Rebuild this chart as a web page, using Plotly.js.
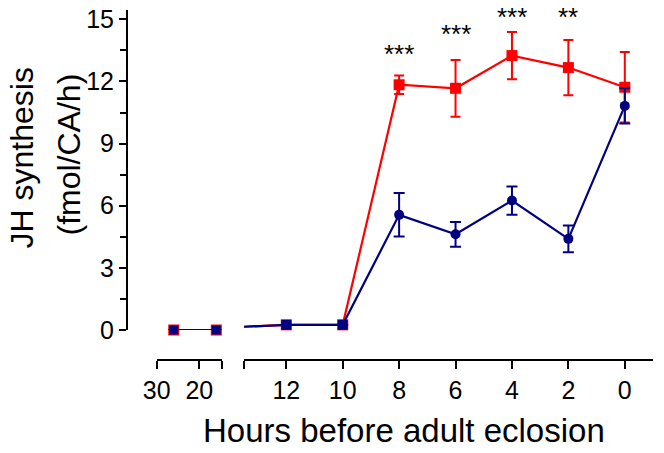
<!DOCTYPE html>
<html>
<head>
<meta charset="utf-8">
<script src="https://cdn.plot.ly/plotly-3.0.1.min.js"></script>
<style>html,body{margin:0;padding:0;background:#fff;}#chart{width:664px;height:453px;}</style>
</head>
<body>
<div id="chart"></div>
<script>
// Data
var hours     = [26, 16, 12, 10, 8, 6, 4, 2, 0];
var redMean   = [0, 0, 0.25, 0.25, 11.84, 11.67, 13.25, 12.67, 11.72];
var redErr    = [0, 0, 0, 0, 0.45, 1.37, 1.14, 1.33, 1.70];
var blueMean  = [0, 0, 0.25, 0.25, 5.56, 4.62, 6.25, 4.40, 10.82];
var blueErr   = [0, 0, 0, 0, 1.05, 0.60, 0.68, 0.65, 0.85];
var starHours = [8, 6, 4, 2];
var starText  = ['***', '***', '***', '**'];
var starY     = [13.34, 14.28, 15.1, 15.1];
var yTicks    = [0, 3, 6, 9, 12, 15];
var leftTicks = [30, 20];
var rightTicks = [12, 10, 8, 6, 4, 2, 0];

var leftRange = [30, 14.74];
var rightRange = [13.5, -1];

var RED = '#ff0000', BLUE = '#000080';
var FONT = 'Liberation Sans, Arial, sans-serif';

function pick(arr, cond) { return arr.filter(function (v, i) { return cond(hours[i]); }); }
var inLeft = function (h) { return h <= leftRange[0] && h >= leftRange[1]; };
var inRight = function (h) { return h <= rightRange[0] && h >= rightRange[1]; };

var blueSymbols = blueMean.map(function (v) { return v < 1 ? 'square' : 'circle'; });

function markerTrace(xa, cond, mean, err, color, symbol, size, capw) {
  return {
    type: 'scatter', mode: 'markers', xaxis: xa, yaxis: 'y',
    x: pick(hours, cond), y: pick(mean, cond),
    error_y: {type: 'data', array: pick(err, cond), visible: true, color: color, thickness: 2, width: capw},
    marker: {color: color, symbol: Array.isArray(symbol) ? pick(symbol, cond) : symbol, size: size, line: {width: 0}},
    cliponaxis: false, hoverinfo: 'skip'
  };
}
function lineTrace(xa, cond, mean, color) {
  return {
    type: 'scatter', mode: 'lines', xaxis: xa, yaxis: 'y',
    x: pick(hours, cond), y: pick(mean, cond),
    line: {color: color, width: 2.2}, hoverinfo: 'skip'
  };
}
var all = function () { return true; };

var traces = [
  lineTrace('x2', all, redMean, RED),
  markerTrace('x2', inRight, redMean, redErr, RED, 'square', 11, 5),
  lineTrace('x2', all, blueMean, BLUE),
  markerTrace('x2', inRight, blueMean, blueErr, BLUE, blueSymbols, 10, 5.5),
  lineTrace('x', inLeft, redMean, RED),
  markerTrace('x', inLeft, redMean, redErr, RED, 'square', 11, 5),
  lineTrace('x', inLeft, blueMean, BLUE),
  markerTrace('x', inLeft, blueMean, blueErr, BLUE, blueSymbols, 9, 5.5)
];

var axBase = {
  showline: true, linewidth: 2, linecolor: '#000', ticks: 'outside', ticklen: 8, tickwidth: 2,
  tickcolor: '#000', showgrid: false, zeroline: false, anchor: 'free', position: 0,
  tickfont: {size: 25, color: '#000', family: FONT}, tickmode: 'array', fixedrange: true
};

var layout = {
  width: 664, height: 453,
  margin: {l: 127, r: 11, t: 10, b: 93},
  paper_bgcolor: '#fff', plot_bgcolor: '#fff',
  showlegend: false,
  font: {family: FONT, color: '#000'},
  xaxis: Object.assign({}, axBase, {
    domain: [0.0565, 0.18], range: leftRange,
    tickvals: leftTicks.concat([leftRange[1]]),
    ticktext: leftTicks.map(String).concat([''])
  }),
  xaxis2: Object.assign({}, axBase, {
    domain: [0.2224, 1], range: rightRange,
    tickvals: [rightRange[0]].concat(rightTicks),
    ticktext: [''].concat(rightTicks.map(String))
  }),
  yaxis: Object.assign({}, axBase, {
    domain: [0.0857, 1], range: [0, 15.45],
    tickvals: yTicks, ticktext: yTicks.map(String), ticklen: 7,
    minor: {tickmode: 'linear', tick0: 0, dtick: 1.5, ticks: 'outside', ticklen: 6, tickwidth: 2, tickcolor: '#000'}
  }),
  annotations: starHours.map(function (h, i) {
    return {xref: 'x2', yref: 'y', x: h, y: starY[i], text: starText[i], showarrow: false,
      xanchor: 'center', yanchor: 'middle', font: {size: 26, color: '#000', family: FONT}};
  }).concat([
    {xref: 'paper', yref: 'paper', x: (404 - 127) / 526, y: (360 - 430) / 350, text: 'Hours before adult eclosion',
      showarrow: false, xanchor: 'center', yanchor: 'middle', font: {size: 33, color: '#000', family: FONT}},
    {xref: 'paper', yref: 'paper', x: (21.5 - 127) / 526, y: (360 - 158) / 350, text: 'JH synthesis', textangle: -90,
      showarrow: false, xanchor: 'center', yanchor: 'middle', font: {size: 32, color: '#000', family: FONT}},
    {xref: 'paper', yref: 'paper', x: (68.5 - 127) / 526, y: (360 - 155) / 350, text: '(fmol/CA/h)', textangle: -90,
      showarrow: false, xanchor: 'center', yanchor: 'middle', font: {size: 32, color: '#000', family: FONT}}
  ])
};

Plotly.newPlot('chart', traces, layout, {displayModeBar: false, staticPlot: true});
</script>
</body>
</html>
